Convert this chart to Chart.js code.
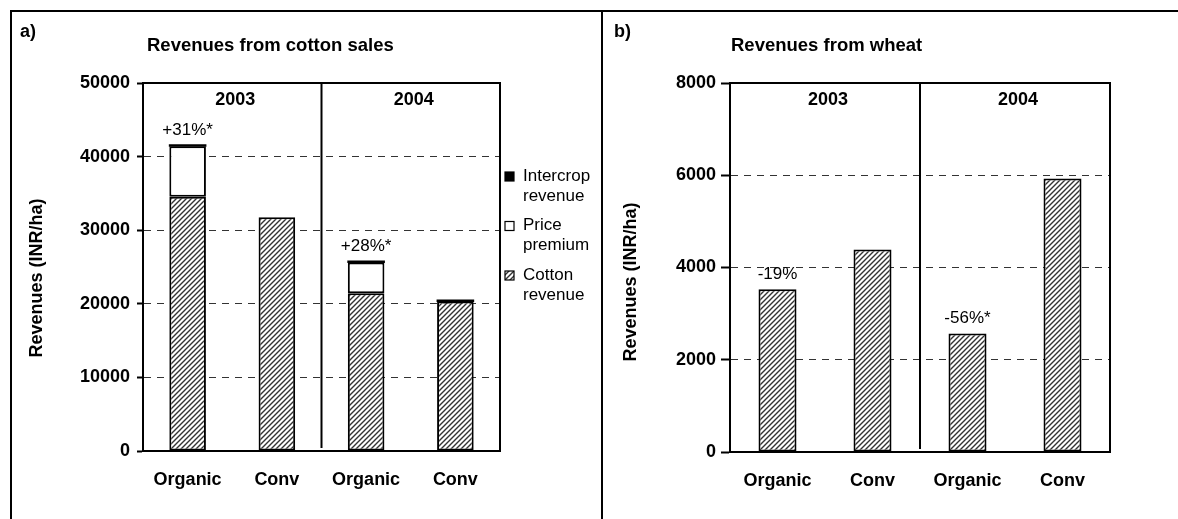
<!DOCTYPE html>
<html>
<head>
<meta charset="utf-8">
<script src="https://cdn.jsdelivr.net/npm/chart.js@4.4.1/dist/chart.umd.min.js"></script>
<style>
  html, body { margin: 0; padding: 0; background: #fff; }
  #wrap { position: relative; width: 1178px; height: 519px; overflow: hidden; }
  canvas { position: absolute; left: 0; top: 0; }
  .line { position: absolute; background: #000; }
</style>
</head>
<body>
<div id="wrap">
  <canvas id="cotton" width="1178" height="519"></canvas>
  <canvas id="wheat" width="1178" height="519"></canvas>
  <div class="line" style="left:10px;top:10px;width:1168px;height:2px"></div>
  <div class="line" style="left:10px;top:10px;width:2px;height:509px"></div>
  <div class="line" style="left:601px;top:10px;width:2px;height:509px"></div>
</div>
<script>
var categories = ['Organic', 'Conv', 'Organic', 'Conv'];
var years = ['2003', '2004'];

// a) cotton, INR/ha (stacked)
var cottonRevenue = [34550, 31750, 21450, 20300];
var pricePremium = [6850, null, 4150, null];
var intercropRevenue = [200, null, 200, 200];
var cottonNotes = ['+31%*', '', '+28%*', ''];

// b) wheat, INR/ha
var wheatRevenue = [3530, 4390, 2570, 5930];
var wheatNotes = ['-19%', '', '-56%*', ''];

var FONT = '"Liberation Sans", Arial, sans-serif';

function hatch() {
    var c = document.createElement('canvas');
    c.width = 5; c.height = 5;
    var g = c.getContext('2d');
    g.fillStyle = '#fff';
    g.fillRect(0, 0, 5, 5);
    g.strokeStyle = '#333';
    g.lineWidth = 1.4;
    g.beginPath();
    g.moveTo(-1, 6); g.lineTo(6, -1);
    g.moveTo(-1, 1); g.lineTo(1, -1);
    g.moveTo(4, 6); g.lineTo(6, 4);
    g.stroke();
    return g.createPattern(c, 'repeat');
}
var hatchFill = hatch();

var decoPlugin = {
    id: 'deco',
    afterDraw: function (chart, args, o) {
        var ctx = chart.ctx, a = chart.chartArea;
        var xs = chart.scales.x, ys = chart.scales.y;
        ctx.save();
        // plot frame (top + right) and year divider
        ctx.strokeStyle = '#000';
        ctx.lineWidth = 2;
        ctx.beginPath();
        ctx.moveTo(a.left, a.top);
        ctx.lineTo(a.right, a.top);
        ctx.lineTo(a.right, a.bottom);
        var mid = (xs.getPixelForValue(1) + xs.getPixelForValue(2)) / 2;
        ctx.moveTo(mid, a.top);
        ctx.lineTo(mid, a.bottom - 3);
        ctx.stroke();

        ctx.fillStyle = '#000';
        ctx.textBaseline = 'middle';
        ctx.font = 'bold 18px ' + FONT;
        ctx.textAlign = 'left';
        ctx.fillText(o.panel, o.panelX, 32);
        ctx.font = 'bold 18.5px ' + FONT;
        ctx.fillText(o.title, o.titleX, 46);

        ctx.font = 'bold 18px ' + FONT;
        ctx.textAlign = 'center';
        ctx.fillText(years[0], (a.left + mid) / 2 + 3, 100);
        ctx.fillText(years[1], (mid + a.right) / 2 + 3, 100);

        ctx.save();
        ctx.translate(o.yTitleX, o.yTitleY);
        ctx.rotate(-Math.PI / 2);
        ctx.fillText('Revenues (INR/ha)', 0, 0);
        ctx.restore();

        // notes above organic bars
        ctx.font = '17px ' + FONT;
        o.notes.forEach(function (t, i) {
            if (!t) return;
            var total = 0;
            chart.data.datasets.forEach(function (d) { total += d.data[i] || 0; });
            ctx.fillText(t, xs.getPixelForValue(i), ys.getPixelForValue(total) - 15);
        });

        // legend
        if (o.legend) {
            var ds = chart.data.datasets.slice().reverse();
            ctx.textAlign = 'left';
            ds.forEach(function (d, k) {
                var yc = 176 + k * 49.5;
                ctx.fillStyle = d.backgroundColor;
                ctx.fillRect(505, yc - 4, 9, 9);
                ctx.lineWidth = 1.2;
                ctx.strokeStyle = '#000';
                ctx.strokeRect(505, yc - 4, 9, 9);
                ctx.fillStyle = '#000';
                var sp = d.label.indexOf(' ');
                ctx.fillText(d.label.slice(0, sp), 523, yc);
                ctx.fillText(d.label.slice(sp + 1), 523, yc + 20);
            });
        }
        ctx.restore();
    }
};

function scalesFor(max, step, yWidth, xHeight, tickLen, tickPad) {
    return {
        x: {
            stacked: true,
            afterFit: function (s) { s.height = xHeight; },
            grid: { display: false, drawTicks: false },
            border: { color: '#000', width: 2 },
            ticks: {
                color: '#000', padding: 18, maxRotation: 0, autoSkip: false,
                font: { family: FONT, size: 18, weight: 'bold' }
            }
        },
        y: {
            stacked: true,
            min: 0,
            max: max,
            afterFit: function (s) { s.width = yWidth; },
            ticks: {
                stepSize: step, color: '#000', padding: tickPad,
                font: { family: FONT, size: 18, weight: 'bold' },
                callback: function (v) { return String(v); }
            },
            grid: {
                color: function (c) {
                    var v = c.tick ? c.tick.value : 0;
                    return (v === 0 || v === max) ? 'rgba(0,0,0,0)' : '#333';
                },
                tickColor: '#000',
                tickLength: tickLen,
                tickWidth: 2,
                lineWidth: 1
            },
            border: { color: '#000', width: 2, dash: [7, 6] }
        }
    };
}

new Chart(document.getElementById('cotton'), {
    type: 'bar',
    data: {
        labels: categories,
        datasets: [
            { label: 'Cotton revenue', data: cottonRevenue, backgroundColor: hatchFill },
            { label: 'Price premium', data: pricePremium, backgroundColor: '#fff' },
            { label: 'Intercrop revenue', data: intercropRevenue, backgroundColor: '#000',
              borderWidth: 0, inflateAmount: 0.5 }
        ]
    },
    options: {
        responsive: false,
        animation: false,
        events: [],
        datasets: {
            bar: {
                borderColor: '#000', borderWidth: 2, borderSkipped: false,
                barPercentage: 0.41, categoryPercentage: 1
            }
        },
        layout: { padding: { left: 60, top: 83, right: 678, bottom: 0 } },
        plugins: {
            legend: { display: false },
            tooltip: { enabled: false },
            deco: {
                panel: 'a)', panelX: 20, title: 'Revenues from cotton sales', titleX: 147,
                yTitleX: 37, yTitleY: 278, notes: cottonNotes, legend: true
            }
        },
        scales: scalesFor(50000, 10000, 83, 68, 6, 7)
    },
    plugins: [decoPlugin]
});

new Chart(document.getElementById('wheat'), {
    type: 'bar',
    data: {
        labels: categories,
        datasets: [
            { label: 'Wheat revenue', data: wheatRevenue, backgroundColor: hatchFill }
        ]
    },
    options: {
        responsive: false,
        animation: false,
        events: [],
        datasets: {
            bar: {
                borderColor: '#000', borderWidth: 2, borderSkipped: false,
                barPercentage: 0.4, categoryPercentage: 1
            }
        },
        layout: { padding: { left: 600, top: 83, right: 68, bottom: 0 } },
        plugins: {
            legend: { display: false },
            tooltip: { enabled: false },
            deco: {
                panel: 'b)', panelX: 614, title: 'Revenues from wheat', titleX: 731,
                yTitleX: 631, yTitleY: 282, notes: wheatNotes, legend: false
            }
        },
        scales: scalesFor(8000, 2000, 130, 67, 9, 5)
    },
    plugins: [decoPlugin]
});
</script>
</body>
</html>
